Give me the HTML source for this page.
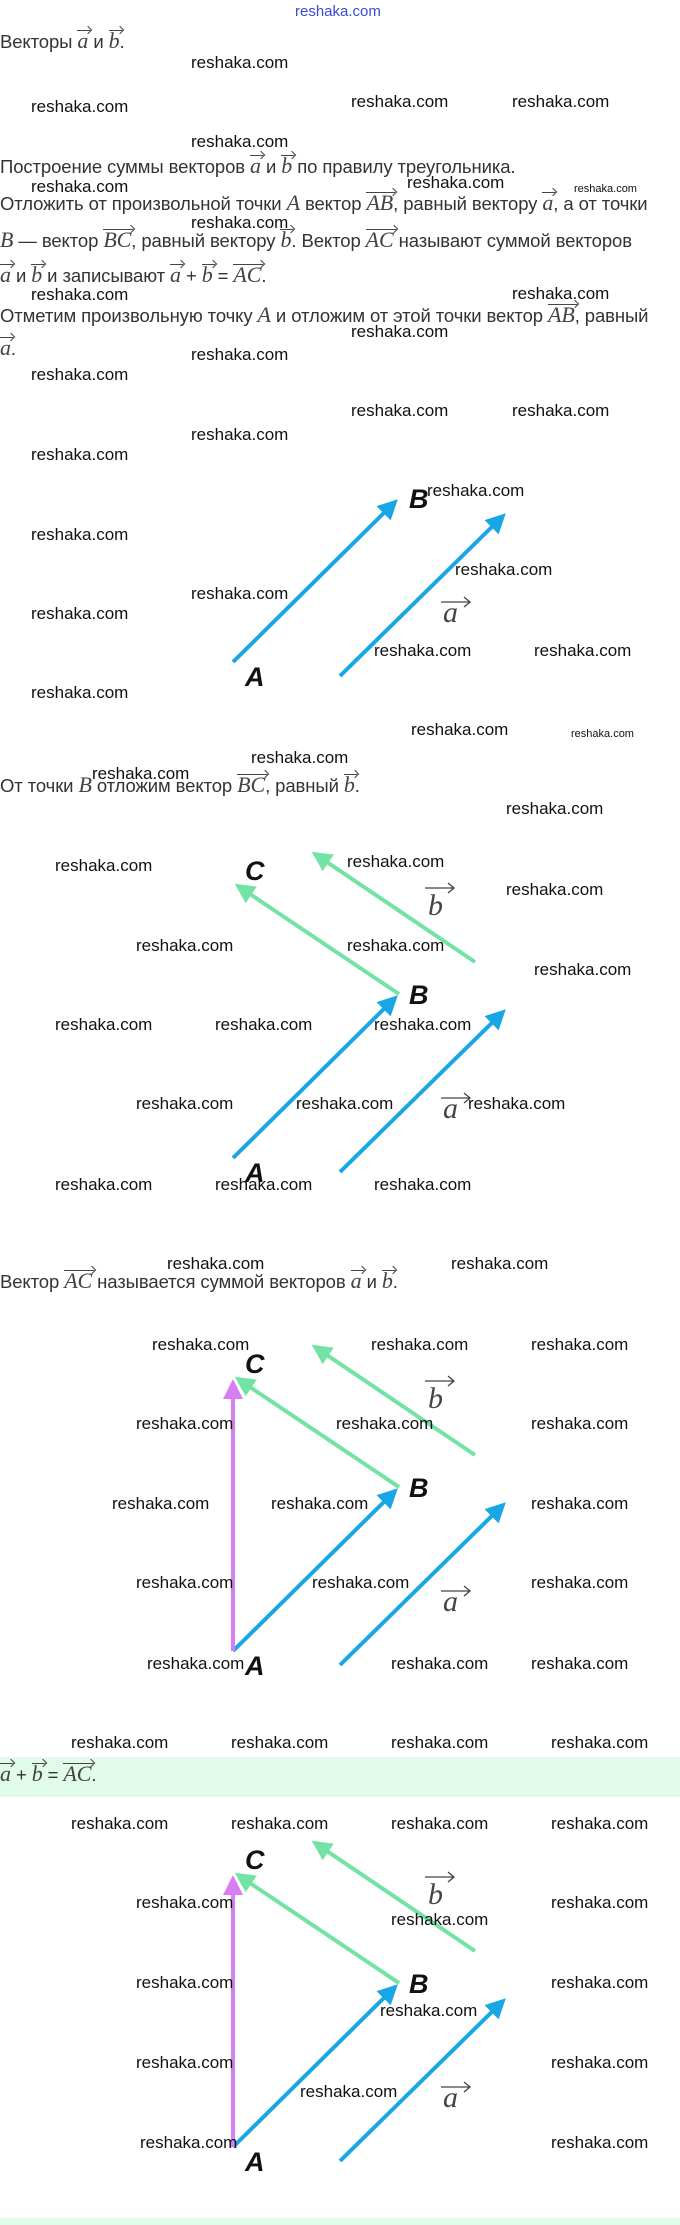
<!DOCTYPE html>
<html><head><meta charset="utf-8">
<style>
html,body{margin:0;padding:0;background:#fff}
body{width:680px;height:2225px;position:relative;overflow:hidden;font-family:"Liberation Sans",sans-serif;color:#333}
.w{position:absolute;font-size:17px;color:#111;white-space:nowrap;line-height:20px;font-family:"Liberation Sans",sans-serif}
.s{font-size:11px}
.t{position:absolute;left:0;font-size:18.5px;white-space:nowrap;line-height:24px;letter-spacing:-0.1px}
.m{font-family:"Liberation Serif",serif;font-style:italic;font-size:22px;color:#444}
.v{display:inline-block;position:relative;font-family:"Liberation Serif",serif;font-style:italic;font-size:22px;color:#444}
.v::before{content:"";position:absolute;left:0;right:-2px;top:1px;border-top:1px solid #444}
.v::after{content:"";position:absolute;right:-3px;top:-2px;width:5px;height:5px;border-top:1px solid #444;border-right:1px solid #444;transform:rotate(45deg)}
svg{position:absolute;left:0;top:0}
</style></head><body>
<div style="position:absolute;left:0;top:1757px;width:680px;height:40px;background:#e0fbea"></div>
<div style="position:absolute;left:0;top:2218px;width:680px;height:7px;background:#e0fbea"></div>

<div class="w" style="left:295px;top:2px;color:#3a4ad8;font-size:15px">reshaka.com</div>

<div class="t" style="top:29px">Векторы <span class="v">a</span> и <span class="v">b</span>.</div>
<div class="t" style="top:154px">Построение суммы векторов <span class="v">a</span> и <span class="v">b</span> по правилу треугольника.</div>
<div class="t" style="top:191px">Отложить от произвольной точки <span class="m">A</span> вектор <span class="v">AB</span>, равный вектору <span class="v">a</span>, а от точки</div>
<div class="t" style="top:228px"><span class="m">B</span> — вектор <span class="v">BC</span>, равный вектору <span class="v">b</span>. Вектор <span class="v">AC</span> называют суммой векторов</div>
<div class="t" style="top:263px"><span class="v">a</span> и <span class="v">b</span> и записывают <span class="v">a</span> + <span class="v">b</span> = <span class="v">AC</span>.</div>
<div class="t" style="top:303px">Отметим произвольную точку <span class="m">A</span> и отложим от этой точки вектор <span class="v">AB</span>, равный</div>
<div class="t" style="top:336px"><span class="v">a</span>.</div>
<div class="t" style="top:773px">От точки <span class="m">B</span> отложим вектор <span class="v">BC</span>, равный <span class="v">b</span>.</div>
<div class="t" style="top:1269px">Вектор <span class="v">AC</span> называется суммой векторов <span class="v">a</span> и <span class="v">b</span>.</div>
<div class="t" style="top:1762px"><span class="v">a</span> + <span class="v">b</span> = <span class="v">AC</span>.</div>

<svg width="680" height="2225" viewBox="0 0 680 2225">
<defs>
<marker id="mb" markerWidth="5" markerHeight="5" refX="4" refY="2.5" orient="auto" markerUnits="strokeWidth"><path d="M0,0 L5,2.5 L0,5 Z" fill="#19a6e4"/></marker>
<marker id="mg" markerWidth="5" markerHeight="5" refX="4" refY="2.5" orient="auto" markerUnits="strokeWidth"><path d="M0,0 L5,2.5 L0,5 Z" fill="#72e3a4"/></marker>
<marker id="mp" markerWidth="5" markerHeight="5" refX="4" refY="2.5" orient="auto" markerUnits="strokeWidth"><path d="M0,0 L5,2.5 L0,5 Z" fill="#d77ef2"/></marker>
<g id="base">
<line x1="0" y1="0" x2="162" y2="-160" stroke="#19a6e4" stroke-width="4" marker-end="url(#mb)"/>
<line x1="107" y1="14" x2="270" y2="-146" stroke="#19a6e4" stroke-width="4" marker-end="url(#mb)"/>
<text x="12" y="24" font-family="Liberation Sans,sans-serif" font-weight="bold" font-style="italic" font-size="27" fill="#111" transform="scale(1,1)">A</text>
<text x="176" y="-154" font-family="Liberation Sans,sans-serif" font-weight="bold" font-style="italic" font-size="27" fill="#111">B</text>
<text x="210" y="-40" font-family="Liberation Serif,serif" font-style="italic" font-size="30" fill="#444">a</text>
<path d="M208,-60 H236 M231,-65 L237,-60 L231,-55" stroke="#444" stroke-width="1.3" fill="none"/>
</g>
<g id="bc">
<line x1="166" y1="-164" x2="5" y2="-272" stroke="#72e3a4" stroke-width="4" marker-end="url(#mg)"/>
<line x1="242" y1="-196" x2="82" y2="-304" stroke="#72e3a4" stroke-width="4" marker-end="url(#mg)"/>
<text x="12" y="-278" font-family="Liberation Sans,sans-serif" font-weight="bold" font-style="italic" font-size="27" fill="#111">C</text>
<text x="195" y="-243" font-family="Liberation Serif,serif" font-style="italic" font-size="30" fill="#444">b</text>
<path d="M192,-270 H220 M215,-275 L221,-270 L215,-265" stroke="#444" stroke-width="1.3" fill="none"/>
</g>
<line id="ac" x1="0" y1="0" x2="0" y2="-268" stroke="#d77ef2" stroke-width="4" marker-end="url(#mp)"/>
</defs>
<use href="#base" x="233" y="662"/>
<use href="#base" x="233" y="1158"/><use href="#bc" x="233" y="1158"/>
<use href="#base" x="233" y="1651"/><use href="#bc" x="233" y="1651"/><use href="#ac" x="233" y="1651"/>
<use href="#base" x="233" y="2147"/><use href="#bc" x="233" y="2147"/><use href="#ac" x="233" y="2147"/>
</svg>

<div class="w" style="left:191px;top:53px">reshaka.com</div>
<div class="w" style="left:31px;top:97px">reshaka.com</div>
<div class="w" style="left:351px;top:92px">reshaka.com</div>
<div class="w" style="left:512px;top:92px">reshaka.com</div>
<div class="w" style="left:191px;top:132px">reshaka.com</div>
<div class="w" style="left:31px;top:177px">reshaka.com</div>
<div class="w" style="left:407px;top:173px">reshaka.com</div>
<div class="w s" style="left:574px;top:179px">reshaka.com</div>
<div class="w" style="left:191px;top:213px">reshaka.com</div>
<div class="w" style="left:31px;top:285px">reshaka.com</div>
<div class="w" style="left:512px;top:284px">reshaka.com</div>
<div class="w" style="left:351px;top:322px">reshaka.com</div>
<div class="w" style="left:191px;top:345px">reshaka.com</div>
<div class="w" style="left:31px;top:365px">reshaka.com</div>
<div class="w" style="left:351px;top:401px">reshaka.com</div>
<div class="w" style="left:512px;top:401px">reshaka.com</div>
<div class="w" style="left:191px;top:425px">reshaka.com</div>
<div class="w" style="left:31px;top:445px">reshaka.com</div>
<div class="w" style="left:427px;top:481px">reshaka.com</div>
<div class="w" style="left:191px;top:584px">reshaka.com</div>
<div class="w" style="left:31px;top:525px">reshaka.com</div>
<div class="w" style="left:31px;top:604px">reshaka.com</div>
<div class="w" style="left:455px;top:560px">reshaka.com</div>
<div class="w" style="left:374px;top:641px">reshaka.com</div>
<div class="w" style="left:534px;top:641px">reshaka.com</div>
<div class="w" style="left:31px;top:683px">reshaka.com</div>
<div class="w" style="left:411px;top:720px">reshaka.com</div>
<div class="w s" style="left:571px;top:724px">reshaka.com</div>
<div class="w" style="left:251px;top:748px">reshaka.com</div>
<div class="w" style="left:92px;top:764px">reshaka.com</div>
<div class="w" style="left:506px;top:799px">reshaka.com</div>
<div class="w" style="left:55px;top:856px">reshaka.com</div>
<div class="w" style="left:347px;top:852px">reshaka.com</div>
<div class="w" style="left:506px;top:880px">reshaka.com</div>
<div class="w" style="left:136px;top:936px">reshaka.com</div>
<div class="w" style="left:347px;top:936px">reshaka.com</div>
<div class="w" style="left:534px;top:960px">reshaka.com</div>
<div class="w" style="left:55px;top:1015px">reshaka.com</div>
<div class="w" style="left:215px;top:1015px">reshaka.com</div>
<div class="w" style="left:374px;top:1015px">reshaka.com</div>
<div class="w" style="left:136px;top:1094px">reshaka.com</div>
<div class="w" style="left:296px;top:1094px">reshaka.com</div>
<div class="w" style="left:468px;top:1094px">reshaka.com</div>
<div class="w" style="left:55px;top:1175px">reshaka.com</div>
<div class="w" style="left:215px;top:1175px">reshaka.com</div>
<div class="w" style="left:374px;top:1175px">reshaka.com</div>
<div class="w" style="left:167px;top:1254px">reshaka.com</div>
<div class="w" style="left:451px;top:1254px">reshaka.com</div>
<div class="w" style="left:152px;top:1335px">reshaka.com</div>
<div class="w" style="left:371px;top:1335px">reshaka.com</div>
<div class="w" style="left:531px;top:1335px">reshaka.com</div>
<div class="w" style="left:136px;top:1414px">reshaka.com</div>
<div class="w" style="left:336px;top:1414px">reshaka.com</div>
<div class="w" style="left:531px;top:1414px">reshaka.com</div>
<div class="w" style="left:112px;top:1494px">reshaka.com</div>
<div class="w" style="left:271px;top:1494px">reshaka.com</div>
<div class="w" style="left:531px;top:1494px">reshaka.com</div>
<div class="w" style="left:136px;top:1573px">reshaka.com</div>
<div class="w" style="left:312px;top:1573px">reshaka.com</div>
<div class="w" style="left:531px;top:1573px">reshaka.com</div>
<div class="w" style="left:147px;top:1654px">reshaka.com</div>
<div class="w" style="left:391px;top:1654px">reshaka.com</div>
<div class="w" style="left:531px;top:1654px">reshaka.com</div>
<div class="w" style="left:71px;top:1733px">reshaka.com</div>
<div class="w" style="left:231px;top:1733px">reshaka.com</div>
<div class="w" style="left:391px;top:1733px">reshaka.com</div>
<div class="w" style="left:551px;top:1733px">reshaka.com</div>
<div class="w" style="left:71px;top:1814px">reshaka.com</div>
<div class="w" style="left:231px;top:1814px">reshaka.com</div>
<div class="w" style="left:391px;top:1814px">reshaka.com</div>
<div class="w" style="left:551px;top:1814px">reshaka.com</div>
<div class="w" style="left:136px;top:1893px">reshaka.com</div>
<div class="w" style="left:391px;top:1910px">reshaka.com</div>
<div class="w" style="left:551px;top:1893px">reshaka.com</div>
<div class="w" style="left:136px;top:1973px">reshaka.com</div>
<div class="w" style="left:380px;top:2001px">reshaka.com</div>
<div class="w" style="left:551px;top:1973px">reshaka.com</div>
<div class="w" style="left:136px;top:2053px">reshaka.com</div>
<div class="w" style="left:300px;top:2082px">reshaka.com</div>
<div class="w" style="left:551px;top:2053px">reshaka.com</div>
<div class="w" style="left:140px;top:2133px">reshaka.com</div>
<div class="w" style="left:551px;top:2133px">reshaka.com</div>
</body></html>
